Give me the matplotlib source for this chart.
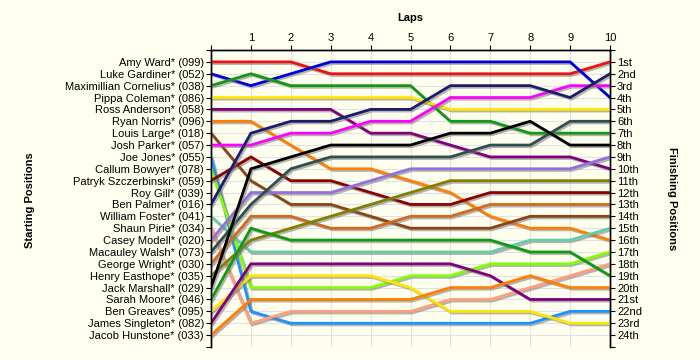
import matplotlib
matplotlib.use('Agg')

import matplotlib.pyplot as plt
import matplotlib.patheffects as pe

# ==========================================
# DATA
# ==========================================
laps = [0, 1, 2, 3, 4, 5, 6, 7, 8, 9, 10]
lap_labels = ["", "1", "2", "3", "4", "5", "6", "7", "8", "9", "10"]

drivers = [
    "Amy Ward* (099)", "Luke Gardiner* (052)", "Maximillian Cornelius* (038)",
    "Pippa Coleman* (086)", "Ross Anderson* (058)", "Ryan Norris* (096)",
    "Louis Large* (018)", "Josh Parker* (057)", "Joe Jones* (055)",
    "Callum Bowyer* (078)", "Patryk Szczerbinski* (059)", "Roy Gill* (039)",
    "Ben Palmer* (016)", "William Foster* (041)", "Shaun Pirie* (034)",
    "Casey Modell* (020)", "Macauley Walsh* (073)", "George Wright* (030)",
    "Henry Easthope* (035)", "Jack Marshall* (029)", "Sarah Moore* (046)",
    "Ben Greaves* (095)", "James Singleton* (082)", "Jacob Hunstone* (033)",
]

finish_labels = [
    "1st", "2nd", "3rd", "4th", "5th", "6th", "7th", "8th", "9th", "10th",
    "11th", "12th", "13th", "14th", "15th", "16th", "17th", "18th", "19th",
    "20th", "21st", "22nd", "23rd", "24th",
]

# position of each driver after each lap (None = no line drawn)
positions = [
    [1, 1, 1, 2, 2, 2, 2, 2, 2, 2, 1],
    [2, 3, 2, 1, 1, 1, 1, 1, 1, 1, 4],
    [3, 2, 3, 3, 3, 3, 6, 6, 7, 7, 7],
    [4, 4, 4, 4, 4, 4, 5, 5, 5, 5, 5],
    [5, 5, 5, 5, 7, 7, 8, 9, 9, 9, 10],
    [6, 6, 8, 10, 10, 11, 12, 14, 15, 15, 16],
    [7, 11, 13, 13, 14, 15, 15, 15, 14, 14, 14],
    [8, 8, 7, 7, 6, 6, 4, 4, 4, 3, 3],
    [9, 22, 23, 23, 23, 23, 23, 23, 23, 22, 22],
    [10, 20, 20, 20, 20, 19, 19, 18, 18, 18, 17],
    [11, 9, 11, 11, 12, 13, 13, 12, 12, 12, 12],
    None,
    [13, 7, 6, 6, 5, 5, 3, 3, 3, 4, 2],
    [14, 17, 17, 17, 17, 17, 17, 17, 16, 16, 15],
    [15, 23, 22, 22, 22, 22, 21, 21, 20, 19, 18],
    [16, 12, 12, 12, 11, 10, 10, 10, 10, 10, 9],
    [17, 13, 10, 9, 9, 9, 9, 8, 8, 6, 6],
    [18, 14, 14, 15, 15, 14, 14, 13, 13, 13, 13],
    [19, 16, 15, 14, 13, 12, 11, 11, 11, 11, 11],
    [20, 10, 9, 8, 8, 8, 7, 7, 6, 8, 8],
    [21, 15, 16, 16, 16, 16, 16, 16, 17, 17, 19],
    [22, 19, 19, 19, 19, 20, 22, 22, 22, 23, 23],
    [23, 18, 18, 18, 18, 18, 18, 19, 21, 21, 21],
    [24, 21, 21, 21, 21, 21, 20, 20, 19, 20, 20],
]

colours = [
    "#ee1111", "#0000dd", "#119911", "#ffe600", "#800080", "#ff8000",
    "#8b4513", "#ff00ff", "#1e90ff", "#7fff00", "#8b0000", "#fffff0",
    "#1c1c6c", "#66cdaa", "#ffa07a", "#9370db", "#2f4f4f", "#d2691e",
    "#808000", "#000000", "#119911", "#ffe600", "#800080", "#ff8000",
]

# ==========================================
# FIGUR
# ==========================================
bg = "#fffff0"
plt.rcParams['font.family'] = ['Liberation Sans', 'DejaVu Sans']

fig = plt.figure(figsize=(7, 3.6), dpi=100, facecolor=bg)
ax = fig.add_axes([211 / 700, 1 - 347 / 360, 399 / 700, 297 / 360])
ax.set_facecolor(bg)

shadow = [pe.SimpleLineShadow(offset=(1.2, -1.2), shadow_color="#777777", alpha=0.55),
          pe.Normal()]

for pos, col in zip(positions, colours):
    if pos is None:
        continue
    ax.plot(laps, pos, color=col, lw=2.0, solid_joinstyle='miter',
            path_effects=shadow, zorder=3)

ax.set_xlim(0, 10)
ax.set_ylim(25, 0)

ax.xaxis.tick_top()
ax.set_xticks(laps)
ax.set_xticklabels(lap_labels, fontsize=8)

ax.set_yticks(range(26))
ax.set_yticklabels([""] + drivers + [""], fontsize=8)
ax.tick_params(axis='both', length=3.5, width=0.8, pad=1.5, color='black')

ax2 = ax.twinx()
ax2.set_ylim(25, 0)
ax2.set_yticks(range(26))
ax2.set_yticklabels([""] + finish_labels + [""], fontsize=8)
ax2.tick_params(axis='y', length=3.5, width=0.8, pad=1.5)

ax.grid(True, color="#e2e2e2", lw=0.8, zorder=0)
ax.set_axisbelow(True)

for a in (ax, ax2):
    a.spines['bottom'].set_visible(False)
    for s in ('top', 'left', 'right'):
        a.spines[s].set_linewidth(1.0)

fig.text(410.5 / 700, 1 - 18 / 360, "Laps", ha='center', va='center',
         fontsize=8, fontweight='bold')
fig.text(30 / 700, 1 - 200 / 360, "Starting Positions", ha='center', va='center',
         rotation=90, fontsize=8, fontweight='bold')
fig.text(672 / 700, 1 - 199 / 360, "Finishing Positions", ha='center', va='center',
         rotation=270, fontsize=8, fontweight='bold')

plt.savefig("out.png", dpi=100, facecolor=bg)
plt.close()
